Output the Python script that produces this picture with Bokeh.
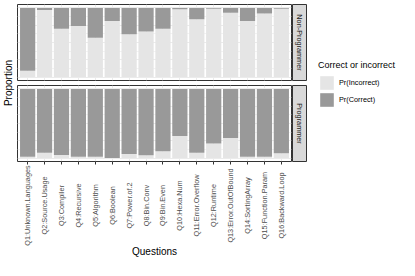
import math
from bokeh.plotting import figure
from bokeh.models import (ColumnDataSource, FactorRange, Range1d, FixedTicker,
                          Label, Legend, LegendItem)
from bokeh.core.properties import value
from bokeh.layouts import row, column
from bokeh.embed import file_html
from bokeh.resources import INLINE

# ---------------- data ----------------
questions = ["Q1:Unknown.Languages", "Q2:Source.Usage", "Q3:Compiler", "Q4:Recursive",
             "Q5:Algorithm", "Q6:Boolean", "Q7:Power.of.2", "Q8:Bin.Conv", "Q9:Bin.Even",
             "Q10:Hexa.Num", "Q11:Error.Overflow", "Q12:Runtime", "Q13:Error.OutOfBound",
             "Q14:SortingArray", "Q15:Function.Param", "Q16:Backward.Loop"]
groups = ["Non-Programmer", "Programmer"]
series = ["Pr(Incorrect)", "Pr(Correct)"]

nonprog_incorrect = [0.09, 0.97, 0.70, 0.74, 0.57, 0.81, 0.62, 0.66, 0.70, 0.98, 0.835, 0.99, 0.93, 0.81, 0.92, 0.99]
nonprog_correct   = [0.91, 0.03, 0.30, 0.26, 0.43, 0.19, 0.38, 0.34, 0.30, 0.02, 0.165, 0.01, 0.07, 0.19, 0.08, 0.01]
prog_incorrect    = [0.02, 0.075, 0.044, 0.02, 0.02, 0.0, 0.058, 0.04, 0.10, 0.32, 0.075, 0.21, 0.29, 0.02, 0.02, 0.07]
prog_correct      = [0.98, 0.925, 0.956, 0.98, 0.98, 1.0, 0.942, 0.96, 0.90, 0.68, 0.925, 0.79, 0.71, 0.98, 0.98, 0.93]

# ---------------- style ----------------
FONT = "Liberation Sans"
LIGHT = "#E5E5E5"
DARK = "#999999"
BORDER = "#333333"
GRID = "#EBEBEB"
PANEL_W = 274
PANEL_H = 76

xr = FactorRange(factors=questions, range_padding=0.1, range_padding_units="absolute")

src_top = ColumnDataSource(dict(q=questions, inc=nonprog_incorrect, cor=nonprog_correct))
src_bot = ColumnDataSource(dict(q=questions, inc=prog_incorrect, cor=prog_correct))


def base(width, height, **kw):
    f = figure(width=width, height=height, output_backend="svg", toolbar_location=None, **kw)
    f.background_fill_color = "white"
    f.border_fill_color = "white"
    return f


def make_panel(src, bottom):
    if bottom:
        p = base(PANEL_W + 2, PANEL_H + 5, x_range=xr, y_range=Range1d(-0.05, 1.05),
                 x_axis_location="below", y_axis_location=None,
                 min_border_left=1, min_border_right=1, min_border_top=1, min_border_bottom=4)
    else:
        p = base(PANEL_W + 2, PANEL_H + 8, x_range=xr, y_range=Range1d(-0.05, 1.05),
                 x_axis_location=None, y_axis_location=None,
                 min_border_left=1, min_border_right=1, min_border_top=4, min_border_bottom=4)
    p.outline_line_color = BORDER
    p.outline_line_width = 1
    p.xgrid.grid_line_color = GRID
    p.ygrid.ticker = FixedTicker(ticks=[0, 0.25, 0.5, 0.75, 1.0],
                                 minor_ticks=[0.125, 0.375, 0.625, 0.875])
    p.ygrid.grid_line_color = GRID
    p.ygrid.minor_grid_line_color = "#F3F3F3"
    p.vbar_stack(["inc", "cor"], x="q", width=0.9, source=src,
                 fill_color=[LIGHT, DARK], line_color=None)
    if bottom:
        ax = p.xaxis[0]
        ax.major_label_text_font_size = "0px"
        ax.major_label_text_color = None
        ax.major_label_standoff = 0
        ax.major_tick_out = 3
        ax.major_tick_in = 0
        ax.major_tick_line_color = BORDER
        ax.axis_line_color = None
        ax.minor_tick_line_color = None
    return p


def make_strip(text, top):
    s = base(15, PANEL_H + (8 if top else 5),
             x_axis_location=None, y_axis_location=None,
             x_range=Range1d(0, 1), y_range=Range1d(0, 1),
             min_border_left=0, min_border_right=1,
             min_border_top=4 if top else 1, min_border_bottom=4)
    s.grid.visible = False
    s.background_fill_color = "#D9D9D9"
    s.outline_line_color = BORDER
    s.add_layout(Label(x=7, y=PANEL_H / 2, x_units="screen", y_units="screen", text=text,
                       angle=-math.pi / 2, text_align="center", text_baseline="middle",
                       text_font=FONT, text_font_size="7.3px", text_color="#1A1A1A"))
    return s


p_top = make_panel(src_top, False)
p_bot = make_panel(src_bot, True)
s_top = make_strip(groups[0], True)
s_bot = make_strip(groups[1], False)

# tick labels + x title (centred rotated labels, like ggplot)
XL_H = 94
xl = base(PANEL_W + 2, XL_H, x_range=xr, y_range=Range1d(0, XL_H),
          x_axis_location=None, y_axis_location=None,
          min_border_left=1, min_border_right=1, min_border_top=0, min_border_bottom=0)
xl.grid.visible = False
xl.outline_line_color = None
xl.text(x="q", y=54, text="q", source=src_bot, angle=math.pi / 2,
        text_align="center", text_baseline="middle",
        text_font=value(FONT), text_font_size=value("7.3px"), text_color="#4D4D4D")
xl.add_layout(Label(x=PANEL_W / 2, y=8, x_units="screen", y_units="screen",
                    text="Questions", text_align="center", text_baseline="middle",
                    text_font=FONT, text_font_size="10px", text_color="black"))

# y-axis title
YL_H = 2 * PANEL_H + 13
ylab = base(16, YL_H, x_axis_location=None, y_axis_location=None,
            x_range=Range1d(0, 1), y_range=Range1d(0, 1), min_border=0)
ylab.grid.visible = False
ylab.outline_line_color = None
ylab.add_layout(Label(x=8, y=YL_H / 2, x_units="screen", y_units="screen", text="Proportion",
                      angle=math.pi / 2, text_align="center", text_baseline="middle",
                      text_font=FONT, text_font_size="10px", text_color="black"))

# legend (its renderers carry the data but are hidden; only the keys show)
lf = base(92, 260, x_axis_location=None, y_axis_location=None,
          x_range=xr, y_range=Range1d(0, 1), min_border=0)
lf.grid.visible = False
lf.outline_line_color = None
rs = lf.vbar_stack(["inc", "cor"], x="q", width=0.9, source=src_top,
                   fill_color=[LIGHT, DARK], line_color=None)
for r in rs:
    r.visible = False
legend = Legend(items=[LegendItem(label=series[0], renderers=[rs[0]]),
                       LegendItem(label=series[1], renderers=[rs[1]])],
                location=(11, 152), title="Correct or incorrect",
                title_text_font=FONT, title_text_font_size="9px",
                title_text_font_style="normal", title_text_color="black",
                title_standoff=4,
                label_text_font=FONT, label_text_font_size="7.3px", label_text_color="black",
                glyph_width=17, glyph_height=17, label_height=17, spacing=0,
                label_standoff=4, padding=0, margin=0,
                border_line_color=None, background_fill_alpha=0)
lf.add_layout(legend)

layout = row(ylab, column(p_top, p_bot, xl), column(s_top, s_bot), lf)

open("out.html", "w").write(file_html(layout, INLINE))
